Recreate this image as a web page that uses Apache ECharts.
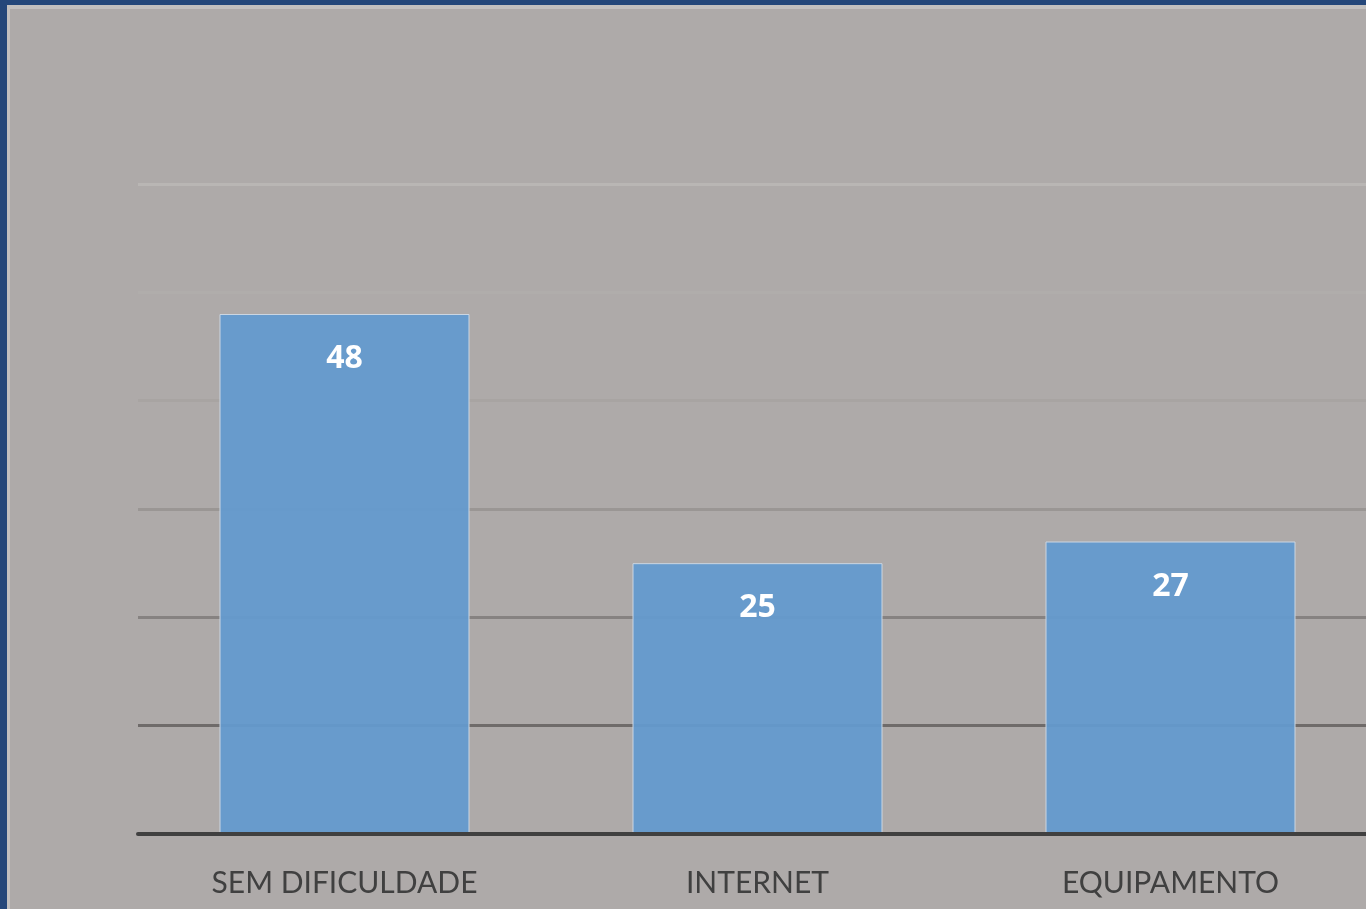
<!DOCTYPE html>
<html>
<head>
<meta charset="utf-8">
<script src="https://cdn.jsdelivr.net/npm/echarts@6/dist/echarts.min.js"></script>
<style>
html,body{margin:0;padding:0;background:#24477a;overflow:hidden;width:1366px;height:909px;}
#chart{position:absolute;left:0;top:0;width:1400px;height:909px;background:#aeaaa9;
box-shadow: inset 7px 5px 0 #24477a, inset 10px 9px 0 #c2c0bf;}
</style>
</head>
<body>
<div id="chart"></div>
<script>
const categories = ['SEM DIFICULDADE', 'INTERNET', 'EQUIPAMENTO'];
const values = [48, 25, 27];
const gridColors = ['#404040', '#6f6b6a', '#868281', '#9a9694', '#a8a4a2', '#b0adab', '#b9b6b4'];

const chart = echarts.init(document.getElementById('chart'), null, {renderer: 'canvas'});
chart.setOption({
  backgroundColor: 'transparent',
  animation: false,
  grid: {left: 138, top: 184, width: 1239, height: 650, containLabel: false},
  xAxis: {
    type: 'category',
    data: categories,
    axisLine: {show: true, lineStyle: {color: '#404040', width: 4}},
    axisTick: {show: false},
    axisLabel: {color: '#404040', fontFamily: 'Lato', fontSize: 30, margin: 34},
    z: 5
  },
  yAxis: {
    type: 'value',
    min: 0, max: 60, interval: 10,
    axisLine: {show: false},
    axisTick: {show: false},
    axisLabel: {show: false},
    splitLine: {show: true, lineStyle: {color: gridColors, width: 3}}
  },
  series: [{
    type: 'bar',
    data: values,
    barWidth: 250,
    itemStyle: {color: 'rgba(100,154,206,0.94)', borderColor: '#cbd6e2', borderWidth: 1},
    label: {show: true, position: 'insideTop', distance: 29, color: '#ffffff', fontFamily: 'Open Sans', fontWeight: 'bold', fontSize: 32}
  }]
});
</script>
</body>
</html>
